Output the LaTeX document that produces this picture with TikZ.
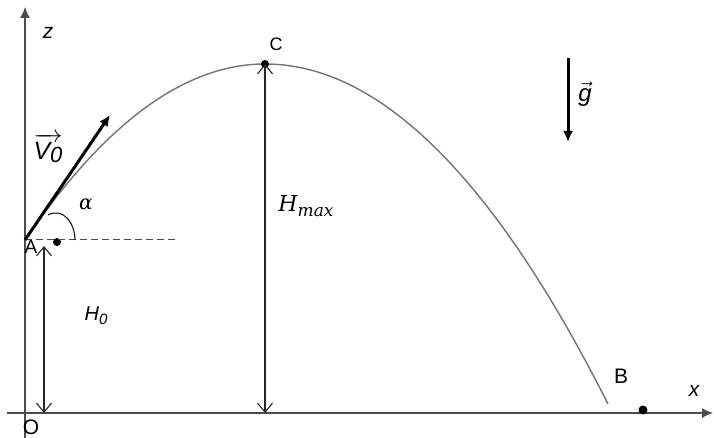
\documentclass[tikz,border=0pt]{standalone}
\usepackage{amsmath}
\usepackage{fontspec}
\setmainfont{Liberation Sans}
\newfontfamily\mathlike{DejaVu Serif}
\usetikzlibrary{arrows.meta}
\begin{document}
\begin{tikzpicture}[x=1pt,y=-1pt,
  lbl/.style={inner sep=0pt,font=\fontsize{18}{20}\selectfont},
  axis/.style={draw=black!70,line width=1.3pt,-{Latex[length=11pt,width=10pt]}},
  dimarrow/.style={draw=black!85,line width=1.1pt,{Straight Barb[length=9pt,width=15pt]}-{Straight Barb[length=9pt,width=15pt]}},
  vecarrow/.style={draw=black,line width=3pt,-{Latex[length=11pt,width=10pt]}},
  traj/.style={draw=black!55,line width=1.4pt},
  dot/.style={circle,fill=black,inner sep=0pt,minimum size=8pt}]
\useasboundingbox (0,0) rectangle (714,438);
% axes
\coordinate (xs) at (7,413);
\coordinate (xe) at (713,413);
\coordinate (zs) at (25,438);
\coordinate (ze) at (25,7);
\draw[axis] (xs) -- (xe);
\draw[axis] (zs) -- (ze);
\node[lbl,font=\fontsize{21}{22}\selectfont\itshape] (zl) at (48,33) {z};
\node[lbl,font=\fontsize{21}{22}\selectfont\itshape] (xl) at (694,391) {x};
\node[lbl,font=\fontsize{21}{22}\selectfont] (O) at (31,427) {O};
% launch point
\coordinate (A) at (25,240);
\coordinate (Aend) at (175,240);
\coordinate (Vtip) at (110,115);
\node[dot] (Adot) at (57,242) {};
\draw[black!70,line width=1pt,dash pattern=on 7pt off 4pt] (A) -- (Aend);
% trajectory
\draw[traj] plot[domain=25:265,samples=80] (\x,{64+176*((265-\x)/240)^2})
  -- plot[domain=265:608,samples=100] (\x,{64+340*((\x-265)/343)^2});
% initial velocity
\draw[vecarrow] (A) -- (Vtip);
\node[lbl,font=\fontsize{25}{27}\selectfont] (V0) at (48,148) {$\overrightarrow{\mbox{\itshape V\raisebox{-3pt}{\fontsize{22}{22}\selectfont 0}}}$};
% angle
\coordinate (arcs) at (48,215);
\coordinate (arce) at (75,240);
\draw[black,line width=1pt] (arcs) .. controls (62,207) and (75,222) .. (arce);
\node[lbl,font=\fontsize{20}{20}\selectfont\mathlike\itshape] (alpha) at (86,204) {α};
\node[lbl,font=\fontsize{19}{20}\selectfont] (Al) at (31,247) {A};
% H0
\coordinate (H0t) at (44,246);
\coordinate (H0b) at (44,413);
\draw[dimarrow] (H0b) -- (H0t);
\node[lbl,font=\fontsize{20}{22}\selectfont\itshape] (H0) at (96,316) {H\raisebox{-4pt}{\fontsize{15}{15}\selectfont 0}};
% peak C
\node[dot] (C) at (265,64) {};
\node[lbl] (Cl) at (276,44) {C};
\coordinate (Cb) at (265,413);
\draw[dimarrow] (Cb) -- (C.center);
\node[lbl,font=\fontsize{22}{24}\selectfont\mathlike\itshape] (Hmax) at (306,206) {H\raisebox{-5pt}{\fontsize{17}{17}\selectfont max}};
% g
\coordinate (gt) at (568,58);
\coordinate (gb) at (568,142);
\draw[vecarrow] (gt) -- (gb);
\node[lbl,font=\fontsize{24}{26}\selectfont] (g) at (585,94) {$\vec{\mbox{\itshape g}}$};
% B
\node[dot,minimum size=9pt] (Bd) at (643,410) {};
\node[lbl,font=\fontsize{21}{22}\selectfont] (Bl) at (621,376) {B};
\end{tikzpicture}
\end{document}
